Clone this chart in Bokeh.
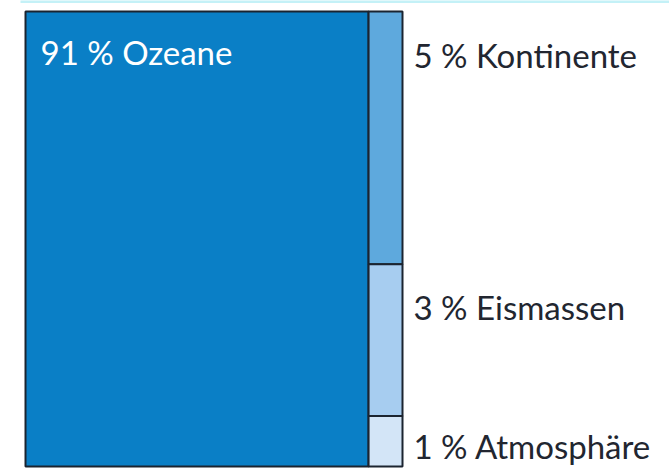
from bokeh.plotting import figure
from bokeh.models import ColumnDataSource, Range1d
from bokeh.core.properties import value
from bokeh.embed import file_html
from bokeh.resources import INLINE

# Data
names = ["Ozeane", "Kontinente", "Eismassen", "Atmosphäre"]
shares = [91, 5, 3, 1]
labels = ["91 % Ozeane", "5 % Kontinente", "3 % Eismassen", "1 % Atmosphäre"]
colors = ["#0a7fc6", "#5ea9dd", "#a7cdf0", "#d3e5f7"]

# Treemap layout: largest block full height, the rest stacked in a column
total = sum(shares)
left, right, top, bottom = [], [], [], []
left.append(0); right.append(shares[0]); top.append(1.0); bottom.append(0.0)
rest = sum(shares[1:])
cur = 1.0
for s in shares[1:]:
    h = s / rest
    left.append(shares[0]); right.append(total)
    top.append(cur); bottom.append(cur - h)
    cur -= h

W, H = 669, 472
px_x = 3.77           # pixels per share unit
px_y = 455.0          # pixels per unit height
x0 = -25 / px_x
y_top = 1 + 11 / px_y
p = figure(width=W, height=H, output_backend="svg", toolbar_location=None,
           x_range=Range1d(x0, x0 + W / px_x), y_range=Range1d(y_top - H / px_y, y_top),
           min_border=0, outline_line_color=None)
p.axis.visible = False
p.grid.visible = False
p.background_fill_color = "white"

# thin light rule at the very top
p.segment(x0=[20 / px_x + x0], x1=[x0 + W / px_x], y0=[y_top - 1 / px_y], y1=[y_top - 1 / px_y],
          line_color="#c4f1f7", line_width=3)

src = ColumnDataSource(dict(left=left, right=right, top=top, bottom=bottom,
                            color=colors, name=names, label=labels))
p.quad(left="left", right="right", top="top", bottom="bottom", source=src,
       fill_color="color", line_color="#1b2430", line_width=2)

# Labels (offset in pixels below each block's top)
lx = [left[0]] + [total] * (len(shares) - 1)
ly = top[:]
lcol = ["white"] + ["#222630"] * (len(shares) - 1)
xoff = [15, 11, 11, 11]
yoff = [40, 43, 43, 30]
lsrc = ColumnDataSource(dict(x=lx, y=ly, text=labels, c=lcol, xo=xoff, yo=yoff))
p.text(x="x", y="y", text="text", source=lsrc, text_color="c",
       x_offset="xo", y_offset="yo",
       text_font=value("Lato"), text_font_size="33px",
       text_baseline="middle", text_align="left")

open("out.html", "w").write(file_html(p, INLINE))
